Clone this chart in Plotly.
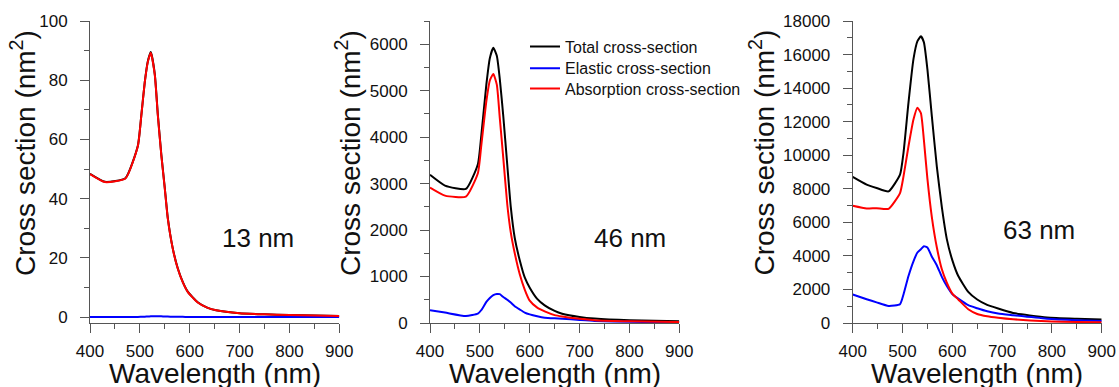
import plotly.graph_objects as go

# ---------------- data ----------------
wl_13 = [400, 430, 471, 496, 503, 510, 516, 522, 530, 536, 543, 550, 556, 566, 576, 586, 596, 616, 635, 653, 700, 750, 800, 850, 900]
total_13 = [48.4, 45.7, 46.9, 57.9, 68.3, 79.6, 86.4, 89.5, 82.0, 68.5, 55.0, 43.6, 33.5, 23.2, 16.5, 11.9, 8.6, 5.0, 3.2, 2.3, 1.3, 0.95, 0.7, 0.5, 0.4]
elastic_13 = [0.05, 0.04, 0.04, 0.06, 0.1, 0.15, 0.2, 0.25, 0.28, 0.27, 0.25, 0.2, 0.17, 0.12, 0.09, 0.07, 0.06, 0.04, 0.03, 0.03, 0.02, 0.015, 0.01, 0.008, 0.005]
absorption_13 = [48.3, 45.6, 46.8, 57.8, 68.2, 79.5, 86.2, 89.3, 81.7, 68.2, 54.7, 43.4, 33.3, 23.1, 16.4, 11.8, 8.5, 4.9, 3.2, 2.3, 1.3, 0.95, 0.7, 0.5, 0.4]

wl_46 = [400, 430, 472, 496, 503, 513, 520, 527, 534, 540, 547, 555, 562, 570, 580, 590, 600, 615, 630, 650, 665, 700, 730, 800, 900]
total_46 = [3190, 2958, 2885, 3418, 4051, 5130, 5700, 5922, 5750, 5250, 4450, 3400, 2500, 1830, 1350, 980, 760, 520, 380, 260, 200, 130, 95, 58, 35]
elastic_46 = [274, 224, 151, 203, 280, 453, 540, 600, 625, 620, 560, 500, 440, 360, 290, 225, 185, 145, 115, 100, 92, 65, 45, 25, 12]
absorption_46 = [2914, 2741, 2720, 3224, 3835, 4770, 5220, 5361, 5130, 4411, 3550, 2550, 1950, 1500, 1050, 720, 480, 330, 250, 170, 140, 90, 60, 35, 20]

wl_63 = [400, 428, 448, 472, 495, 502, 512, 522, 530, 537, 543, 550, 559, 569, 579, 589, 600, 612, 632, 650, 670, 692, 722, 790, 850, 900]
total_63 = [8704, 8243, 8045, 7842, 8841, 10140, 13133, 15726, 16800, 17084, 16725, 15127, 12300, 9300, 6900, 5000, 3750, 2800, 1856, 1400, 1080, 862, 600, 330, 250, 204]
elastic_63 = [1700, 1420, 1230, 1018, 1119, 1700, 2800, 3680, 4200, 4400, 4580, 4500, 3950, 3430, 2750, 2200, 1720, 1450, 1060, 880, 700, 560, 461, 260, 170, 120]
absorption_63 = [6986, 6824, 6844, 6806, 7746, 8740, 10536, 12134, 12834, 12500, 10900, 8600, 6300, 4500, 3200, 2400, 1750, 1400, 820, 540, 400, 310, 220, 100, 60, 42]

series_names = ["Total cross-section", "Elastic cross-section", "Absorption cross-section"]
series_colors = ["#000000", "#0000ff", "#ff0000"]
size_labels = ["13 nm", "46 nm", "63 nm"]

panels = [
    (wl_13, [total_13, elastic_13, absorption_13]),
    (wl_46, [total_46, elastic_46, absorption_46]),
    (wl_63, [total_63, elastic_63, absorption_63]),
]

# ---------------- figure ----------------
W, H = 1119, 387
MT, MB = 21, 64
PH = H - MT - MB
FONT = "Liberation Sans"


def py(pix):
    return 1 - (pix - MT) / PH


fig = go.Figure()

axis_ids = ["", "2", "3"]
legend_ids = ["legend", "legend2", "legend3"]
for i, (wl, ys) in enumerate(panels):
    for j, y in enumerate(ys):
        fig.add_trace(go.Scatter(
            x=wl, y=y, mode="lines",
            name=series_names[j],
            line=dict(color=series_colors[j], width=2, shape="spline", smoothing=0.5),
            showlegend=(i == 1),
            legend=legend_ids[j],
            xaxis="x" + axis_ids[i], yaxis="y" + axis_ids[i],
        ))

x_domains = [[90 / W, 339.3 / W], [430 / W, 679.3 / W], [852.7 / W, 1101.7 / W]]
y_ranges = [[-2, 100], [0, 6500], [0, 18000]]
y_dticks = [20, 1000, 2000]
y_minor = [10, 500, 1000]

common = dict(
    showline=True, linecolor="#555555", linewidth=1,
    ticks="outside", ticklen=9, tickwidth=1, tickcolor="#555555",
    showgrid=False, zeroline=False, automargin=False,
    tickfont=dict(family=FONT, size=17, color="#111111"),
)

layout = dict(
    template="none",
    width=W, height=H,
    margin=dict(l=0, r=0, t=MT, b=MB, pad=0, autoexpand=False),
    paper_bgcolor="white", plot_bgcolor="white",
    font=dict(family=FONT, color="#111111"),
    showlegend=True,
)

legend_rows = [46.7, 68.3, 88.6]
for lid, row in zip(legend_ids, legend_rows):
    layout[lid] = dict(
        x=525 / W, xanchor="left",
        y=py(row), yanchor="middle",
        bgcolor="rgba(0,0,0,0)", borderwidth=0,
        font=dict(family=FONT, size=16, color="#111111"),
    )

for i in range(3):
    xa = dict(common)
    xa.update(domain=x_domains[i], range=[400, 900], dtick=100, tick0=400,
              anchor="y" + axis_ids[i], ticklabelstandoff=4,
              minor=dict(ticks="outside", ticklen=5, dtick=50, tickcolor="#555555"))
    ya = dict(common)
    ya.update(domain=[0, 1], range=y_ranges[i], dtick=y_dticks[i], tick0=0,
              anchor="x" + axis_ids[i], ticklabelstandoff=9, tickformat="d",
              minor=dict(ticks="outside", ticklen=5, dtick=y_minor[i], tickcolor="#555555"))
    layout["xaxis" + axis_ids[i]] = xa
    layout["yaxis" + axis_ids[i]] = ya

fig.update_layout(**layout)

annotations = []
# y-axis titles
for cx in [23, 348, 762.5]:
    annotations.append(dict(
        text="Cross section (nm<sup>2</sup>)", textangle=-90,
        x=cx / W, y=py(153), xref="paper", yref="paper",
        xanchor="center", yanchor="middle", showarrow=False,
        font=dict(family=FONT, size=28, color="#111111"),
    ))
# x-axis titles
for d in x_domains:
    annotations.append(dict(
        text="Wavelength (nm)",
        x=(d[0] + d[1]) / 2, y=py(373), xref="paper", yref="paper",
        xanchor="center", yanchor="middle", showarrow=False,
        font=dict(family=FONT, size=28, color="#111111"),
    ))
# size labels
for (cx, cy), lab in zip([(257.5, 237.5), (630, 237.5), (1038.7, 230)], size_labels):
    annotations.append(dict(
        text=lab, x=cx / W, y=py(cy), xref="paper", yref="paper",
        xanchor="center", yanchor="middle", showarrow=False,
        font=dict(family=FONT, size=26, color="#111111"),
    ))

fig.update_layout(annotations=annotations)

fig.write_html("out.html")
